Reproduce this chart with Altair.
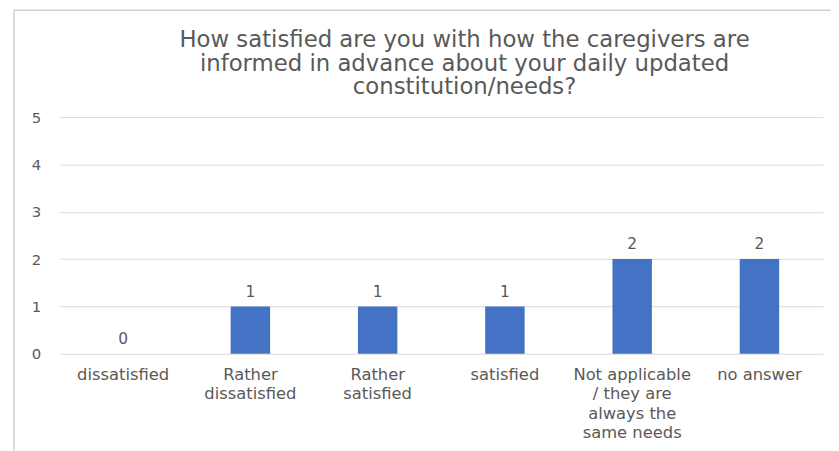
import altair as alt
import pandas as pd

categories = [
    "dissatisfied",
    "Rather\ndissatisfied",
    "Rather\nsatisfied",
    "satisfied",
    "Not applicable\n/ they are\nalways the\nsame needs",
    "no answer",
]
counts = [0, 1, 1, 1, 2, 2]
y_ticks = [0, 1, 2, 3, 4, 5]
title_lines = [
    "How satisfied are you with how the caregivers are",
    "informed in advance about your daily updated",
    "constitution/needs?",
]

df = pd.DataFrame({"category": categories, "count": counts})

FONT = "DejaVu Sans"
GREY = "#595959"

x_enc = alt.X(
    "category:N",
    sort=categories,
    scale=alt.Scale(paddingInner=0.69, paddingOuter=0.345),
    axis=alt.Axis(
        title=None,
        labelAngle=0,
        labelExpr="split(datum.label, '\\n')",
        labelFont=FONT,
        labelFontSize=16.5,
        labelColor=GREY,
        labelLineHeight=19.5,
        labelPadding=13,
        ticks=False,
        domain=False,
        grid=False,
    ),
)
y_enc = alt.Y(
    "count:Q",
    scale=alt.Scale(domain=[0, 5]),
    axis=alt.Axis(
        title=None,
        values=y_ticks,
        labelFont=FONT,
        labelFontSize=15,
        labelColor=GREY,
        labelPadding=19,
        ticks=False,
        domain=False,
        grid=True,
        gridColor="#d9d9d9",
        gridWidth=1,
    ),
)

base = alt.Chart(df)
bars = base.mark_bar(color="#4472C4").encode(x=x_enc, y=y_enc)
labels = base.mark_text(
    font=FONT, fontSize=15.5, color=GREY, baseline="alphabetic", dy=-10
).encode(x=alt.X("category:N", sort=categories), y="count:Q", text="count:Q")

one = pd.DataFrame({"a": [0]})
frame_left = alt.Chart(one).mark_rule(color="#d0d0d0", strokeWidth=1.5).encode(
    x=alt.value(-46), y=alt.value(-108), y2=alt.value(340)
)
frame_top = alt.Chart(one).mark_rule(color="#d0d0d0", strokeWidth=1.5).encode(
    x=alt.value(-46), x2=alt.value(790), y=alt.value(-108)
)
title = alt.Chart(one).mark_text(
    text=title_lines,
    font=FONT,
    fontSize=23,
    color=GREY,
    lineHeight=24,
    align="center",
    baseline="alphabetic",
).encode(x=alt.value(409), y=alt.value(-71))

chart = (
    alt.layer(frame_left, frame_top, title, bars, labels)
    .properties(
        width=771,
        height=239,
        autosize=alt.AutoSizeParams(type="none"),
        padding={"left": 52, "top": 108, "right": 8, "bottom": 96},
    )
    .configure(background="white")
    .configure_view(strokeWidth=0, stroke="transparent")
)

chart.save("out.html", embed_options={"renderer": "svg", "actions": False})
